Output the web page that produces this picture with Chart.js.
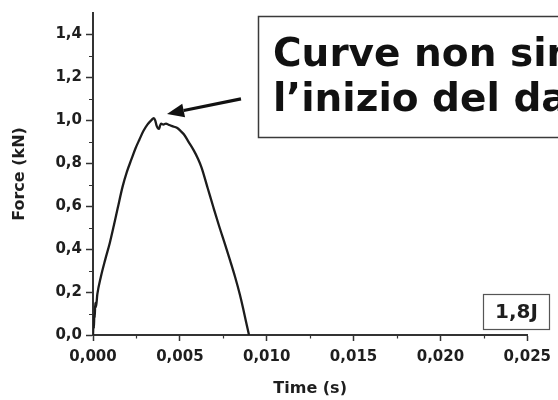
<!DOCTYPE html>
<html>
<head>
<meta charset="utf-8">
<script src="https://cdn.jsdelivr.net/npm/chart.js@4/dist/chart.umd.min.js"></script>
<style>
  html, body { margin: 0; padding: 0; background: #fff; }
  canvas { display: block; }
</style>
</head>
<body>
<canvas id="c" width="558" height="400"></canvas>
<script>
// Impact force history (1,8 J test)
const timeSeconds = [
  0, 0.00003, 0.00005, 0.00008, 0.00010, 0.00013, 0.00017, 0.00025, 0.00045, 0.00070,
  0.00097, 0.00120, 0.00142, 0.00170, 0.00195, 0.00222, 0.00245, 0.00267, 0.00290, 0.00313,
  0.00335, 0.00350, 0.00358, 0.00366, 0.00372, 0.00380, 0.00386, 0.00392, 0.00405, 0.00420,
  0.00438, 0.00460, 0.00483, 0.00505, 0.00523, 0.00550, 0.00580, 0.00605, 0.00625, 0.00660,
  0.00693, 0.00725, 0.00761, 0.00790, 0.00818, 0.00845, 0.00864, 0.00880, 0.00898
];
const forceKN = [
  0, 0.05, 0.03, 0.10, 0.08, 0.15, 0.13, 0.19, 0.27, 0.35,
  0.43, 0.51, 0.59, 0.69, 0.76, 0.82, 0.87, 0.91, 0.95, 0.98,
  1.00, 1.01, 1.00, 0.975, 0.965, 0.96, 0.975, 0.985, 0.98, 0.985,
  0.978, 0.972, 0.965, 0.95, 0.935, 0.90, 0.86, 0.82, 0.78, 0.685,
  0.595, 0.51, 0.42, 0.345, 0.27, 0.19, 0.125, 0.065, 0
];

const xTickValues = [0, 0.005, 0.010, 0.015, 0.020, 0.025];
const xTickLabels = ['0,000', '0,005', '0,010', '0,015', '0,020', '0,025'];
const yTickValues = [0, 0.2, 0.4, 0.6, 0.8, 1.0, 1.2, 1.4];
const yTickLabels = ['0,0', '0,2', '0,4', '0,6', '0,8', '1,0', '1,2', '1,4'];
const xMinorValues = [0.0025, 0.0075, 0.0125, 0.0175, 0.0225];
const yMinorValues = [0.1, 0.3, 0.5, 0.7, 0.9, 1.1, 1.3];

const energyLabel = '1,8J';
const noteLines = ['Curve non simmetriche', 'l\u2019inizio del danneggiamento'];
// arrow from the note towards the peak region (data coordinates)
const arrowFrom = { x: 0.00852, y: 1.10 };
const arrowTo = { x: 0.00426, y: 1.03 };

const AXIS_COLOR = '#333';
const TEXT_COLOR = '#1e1e1e';
const FONT_FAMILY = '"DejaVu Sans", sans-serif';

// short intermediate ticks on both axes
const minorTicks = {
  id: 'minorTicks',
  afterDraw(chart) {
    const { ctx, scales: { x, y } } = chart;
    ctx.save();
    ctx.strokeStyle = AXIS_COLOR;
    ctx.lineWidth = 1.2;
    ctx.beginPath();
    xMinorValues.forEach(v => {
      const px = Math.round(x.getPixelForValue(v)) + 0.5;
      ctx.moveTo(px, y.bottom);
      ctx.lineTo(px, y.bottom + 3.5);
    });
    yMinorValues.forEach(v => {
      const py = Math.round(y.getPixelForValue(v)) + 0.5;
      ctx.moveTo(x.left, py);
      ctx.lineTo(x.left - 4, py);
    });
    ctx.stroke();
    ctx.restore();
  }
};

// callout box, arrow and energy tag
const callouts = {
  id: 'callouts',
  afterDraw(chart) {
    const { ctx, scales: { x, y } } = chart;
    ctx.save();

    // note box (runs past the right edge)
    ctx.fillStyle = '#fff';
    ctx.fillRect(258, 16, 320, 122);
    ctx.strokeStyle = '#3a3a3a';
    ctx.lineWidth = 1.5;
    ctx.strokeRect(258.5, 16.5, 320, 121);

    ctx.fillStyle = '#111';
    ctx.font = 'bold 39px "DejaVu Sans", sans-serif';
    ctx.textBaseline = 'alphabetic';
    ctx.textAlign = 'left';
    ctx.fillText(noteLines[0], 273, 66);
    ctx.fillText(noteLines[1], 273, 111);

    // arrow
    const x0 = x.getPixelForValue(arrowFrom.x), y0 = y.getPixelForValue(arrowFrom.y);
    const x1 = x.getPixelForValue(arrowTo.x), y1 = y.getPixelForValue(arrowTo.y);
    const ang = Math.atan2(y1 - y0, x1 - x0);
    const headLen = 17, headHalf = 7;
    const bx = x1 - headLen * Math.cos(ang), by = y1 - headLen * Math.sin(ang);
    ctx.strokeStyle = '#111';
    ctx.lineWidth = 3.2;
    ctx.beginPath();
    ctx.moveTo(x0, y0);
    ctx.lineTo(bx, by);
    ctx.stroke();
    ctx.fillStyle = '#111';
    ctx.beginPath();
    ctx.moveTo(x1, y1);
    ctx.lineTo(bx + headHalf * Math.sin(ang), by - headHalf * Math.cos(ang));
    ctx.lineTo(bx - headHalf * Math.sin(ang), by + headHalf * Math.cos(ang));
    ctx.closePath();
    ctx.fill();

    // energy tag
    ctx.fillStyle = '#fff';
    ctx.fillRect(483, 294, 67, 36);
    ctx.strokeStyle = '#555';
    ctx.lineWidth = 1.2;
    ctx.strokeRect(483.5, 294.5, 66, 35);
    ctx.fillStyle = TEXT_COLOR;
    ctx.font = 'bold 20px ' + FONT_FAMILY;
    ctx.textAlign = 'center';
    ctx.textBaseline = 'middle';
    ctx.fillText(energyLabel, 516.5, 313);

    ctx.restore();
  }
};

const points = timeSeconds.map((t, i) => ({ x: t, y: forceKN[i] }));

new Chart(document.getElementById('c'), {
  type: 'scatter',
  data: {
    datasets: [{
      data: points,
      showLine: true,
      borderColor: '#1c1c1c',
      borderWidth: 2.3,
      pointRadius: 0,
      cubicInterpolationMode: 'monotone',
      fill: false
    }]
  },
  options: {
    responsive: false,
    animation: false,
    devicePixelRatio: 1,
    layout: { padding: { top: 12, right: 25, left: 0, bottom: 0 } },
    plugins: { legend: { display: false }, tooltip: { enabled: false } },
    scales: {
      x: {
        type: 'linear',
        min: 0,
        max: 0.025,
        afterBuildTicks: s => { s.ticks = xTickValues.map(v => ({ value: v })); },
        afterFit: s => { s.height = 65; },
        border: { display: true, color: AXIS_COLOR, width: 2 },
        grid: { drawOnChartArea: false, drawTicks: true, tickLength: 6, tickColor: AXIS_COLOR, tickWidth: 1.5 },
        ticks: {
          padding: 7,
          color: TEXT_COLOR,
          maxRotation: 0,
          autoSkip: false,
          font: { family: FONT_FAMILY, weight: 'bold', size: 15 },
          callback: (v, i) => xTickLabels[i]
        },
        title: {
          display: true,
          text: 'Time (s)',
          color: TEXT_COLOR,
          font: { family: FONT_FAMILY, weight: 'bold', size: 16 },
          padding: { top: 0, bottom: 2 }
        }
      },
      y: {
        type: 'linear',
        min: 0,
        max: 1.5,
        afterBuildTicks: s => { s.ticks = yTickValues.map(v => ({ value: v })); },
        afterFit: s => { s.width = 93; },
        border: { display: true, color: AXIS_COLOR, width: 2 },
        grid: { drawOnChartArea: false, drawTicks: true, tickLength: 7, tickColor: AXIS_COLOR, tickWidth: 1.5 },
        ticks: {
          padding: 4,
          color: TEXT_COLOR,
          autoSkip: false,
          font: { family: FONT_FAMILY, weight: 'bold', size: 15 },
          callback: (v, i) => yTickLabels[i]
        },
        title: {
          display: true,
          text: 'Force (kN)',
          color: TEXT_COLOR,
          font: { family: FONT_FAMILY, weight: 'bold', size: 16 },
          padding: { top: 10, bottom: 0 }
        }
      }
    }
  },
  plugins: [minorTicks, callouts]
});
</script>
</body>
</html>
